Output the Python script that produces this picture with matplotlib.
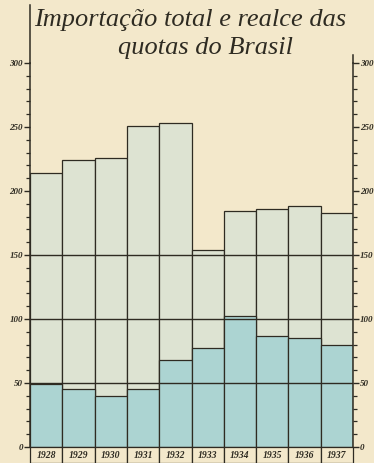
import matplotlib
matplotlib.use("Agg")
import matplotlib.pyplot as plt
from matplotlib.patches import Rectangle
from matplotlib.lines import Line2D

years = ["1928", "1929", "1930", "1931", "1932", "1933", "1934", "1935", "1936", "1937"]
total_import = [214, 224, 226, 251, 253, 154, 184, 186, 188, 183]
brazil_quota = [49, 45, 40, 45, 68, 77, 102, 87, 85, 80]
title_lines = ["Importação total e realce das", "quotas do Brasil"]

bg = "#f3e8cb"
light = "#dde3d2"
blue = "#acd4d2"
ink = "#2e2b22"

fig = plt.figure(figsize=(3.74, 4.63), dpi=100, facecolor=bg)
ax = fig.add_axes([30 / 374, 1 - 447 / 463, 323 / 374, 384 / 463])
ax.set_facecolor(bg)

n = len(years)
x = list(range(n))
ax.bar(x, total_import, width=1.0, align="edge", color=light, edgecolor=ink, linewidth=0.9, zorder=2)
ax.bar(x, brazil_quota, width=1.0, align="edge", color=blue, edgecolor=ink, linewidth=0.9, zorder=3)

for yv in (50, 100, 150):
    ax.axhline(yv, color=ink, linewidth=1.0, zorder=4)

ax.set_xlim(0, n)
ax.set_ylim(0, 300)
ax.set_xticks([])

for side in ("top", "bottom"):
    ax.spines[side].set_visible(False)
for side in ("left", "right"):
    ax.spines[side].set_color(ink)
    ax.spines[side].set_linewidth(1.1)
    ax.spines[side].set_zorder(5)

ax.yaxis.set_ticks_position("both")
ax.tick_params(axis="y", which="both", labelleft=True, labelright=True, direction="out", colors=ink,
               labelsize=6.5, pad=1)
ax.tick_params(axis="y", which="major", length=4, width=1)
ax.tick_params(axis="y", which="minor", length=3, width=0.9)
ax.set_yticks([0, 50, 100, 150, 200, 250, 300])
ax.set_yticks(range(10, 300, 10), minor=True)
for t in ax.yaxis.get_major_ticks():
    for lab in (t.label1, t.label2):
        lab.set_fontstyle("italic")
        lab.set_fontweight("bold")
        lab.set_family("Liberation Serif")

# left axis rises into the title
ax.add_line(Line2D([0, 0], [1.0, 1.15], transform=ax.transAxes, color=ink, linewidth=1.1, clip_on=False))
ax.add_line(Line2D([1, 1], [1.0, 1.02], transform=ax.transAxes, color=ink, linewidth=1.1, clip_on=False))

# boxed year labels under the bars
trans = ax.get_xaxis_transform()
box_h = 16 / 384
for i, yr in enumerate(years):
    ax.add_patch(Rectangle((i, -box_h), 1, box_h, transform=trans, facecolor=bg, edgecolor=ink,
                           linewidth=0.9, clip_on=False, zorder=5))
    ax.text(i + 0.5, -box_h / 2, yr, transform=trans, ha="center", va="center", fontsize=7,
            fontstyle="italic", fontweight="bold", family="Liberation Serif", color=ink,
            clip_on=False, zorder=6)

fig.text(190 / 374, 1 - 20 / 463, title_lines[0], ha="center", va="center", fontsize=19,
         fontstyle="italic", family="Liberation Serif", color=ink)
fig.text(205 / 374, 1 - 48 / 463, title_lines[1], ha="center", va="center", fontsize=19,
         fontstyle="italic", family="Liberation Serif", color=ink)

fig.savefig("out.png", dpi=100, facecolor=bg)
